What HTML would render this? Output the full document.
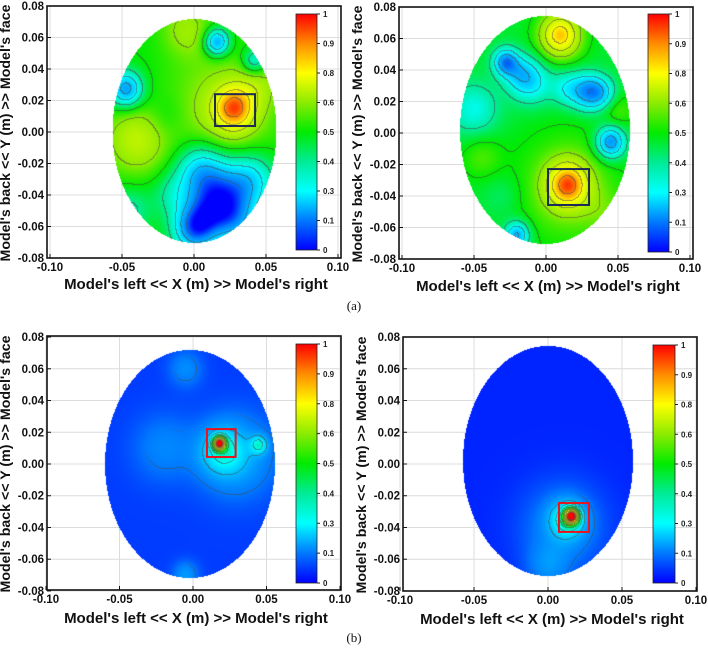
<!DOCTYPE html>
<html><head><meta charset="utf-8"><style>
html,body{margin:0;padding:0;background:#fff;}
#wrap{position:relative;width:708px;height:650px;overflow:hidden;font-family:"Liberation Sans",Arial,sans-serif;}
svg,canvas{position:absolute;left:0;top:0;}
</style></head><body>
<div id="wrap">
<svg id="bg" width="708" height="650"></svg>
<canvas id="cv" width="708" height="650"></canvas>
<svg id="fg" width="708" height="650"></svg>
</div>
<script>
// ---- data ----
const xTickLabels = ["-0.10","-0.05","0.00","0.05","0.10"];
const xTickValues = [-0.10,-0.05,0,0.05,0.10];
const yTickLabels = ["0.08","0.06","0.04","0.02","0.00","-0.02","-0.04","-0.06","-0.08"];
const yTickValues = [0.08,0.06,0.04,0.02,0,-0.02,-0.04,-0.06,-0.08];
const cbarLabels = ["1","0.9","0.8","0.6","0.5","0.4","0.3","0.1","0"];
const cbarValues = [1,0.9,0.8,0.6,0.5,0.4,0.3,0.1,0];
const cmapColors = [[255,0,0],[255,140,0],[255,255,0],[140,235,0],[0,235,0],[0,235,150],[0,255,255],[0,120,255],[0,0,255]];
const panelBase = [0.5,0.47,0.05,0.03];
// blobs: x, y, amplitude, sigma (m)
const blobsA_x = [0.028,0.02,0.016,-0.047,-0.04,0.005,0.022,0.0,0.04,0.042,-0.005,-0.045,0.045,-0.02,0.01,0.03,-0.015];
const blobsA_y = [0.015,0.015,0.057,0.027,-0.005,-0.025,-0.042,-0.062,-0.03,0.045,0.065,-0.05,0.03,0.01,-0.052,-0.058,-0.04];
const blobsA_a = [0.33,0.13,-0.35,-0.35,0.18,-0.27,-0.33,-0.33,-0.2,-0.2,0.12,-0.12,0.08,-0.05,-0.22,-0.15,-0.1];
const blobsA_s = [0.01,0.025,0.006,0.008,0.015,0.012,0.014,0.01,0.012,0.006,0.012,0.01,0.01,0.01,0.012,0.01,0.01];
const blobsB_x = [0.015,0.015,0.01,-0.028,-0.01,0.03,0.045,-0.05,-0.02,0.05,-0.045,0.04,-0.03,-0.018,0.015,0.04];
const blobsB_y = [-0.033,-0.035,0.062,0.045,0.032,0.026,-0.006,0.015,-0.065,0.015,-0.015,-0.05,-0.04,0.038,0.028,0.025];
const blobsB_a = [0.37,0.12,0.38,-0.32,-0.18,-0.3,-0.35,-0.15,-0.3,0.08,0.08,0.05,-0.05,-0.15,-0.15,-0.15];
const blobsB_s = [0.01,0.025,0.01,0.006,0.01,0.008,0.007,0.012,0.006,0.008,0.01,0.01,0.01,0.008,0.008,0.007];
const blobsC_x = [0.018,0.02,0.045,0.03,-0.02,-0.005,-0.005];
const blobsC_y = [0.013,0.008,0.012,0.005,0.01,0.06,-0.07];
const blobsC_a = [0.85,0.2,0.22,0.12,0.07,0.08,0.1];
const blobsC_s = [0.003,0.01,0.004,0.018,0.015,0.008,0.006];
const blobsD_x = [0.016,0.013,0.01,0.0];
const blobsD_y = [-0.033,-0.035,-0.04,-0.065];
const blobsD_a = [0.85,0.25,0.1,0.08];
const blobsD_s = [0.0035,0.008,0.02,0.01];
const boxX1 = [0.0146,0.0014,0.0095,0.0074];
const boxX2 = [0.0424,0.0299,0.029,0.0277];
const boxY1 = [0.024,-0.0229,0.022,-0.0246];
const boxY2 = [0.0038,-0.0457,0.0044,-0.0428];
const boxColor = ["#1c2a55","#1c2a55","#e8141e","#e8141e"];

// ---- geometry ----
const panels = [
 {name:"a-left", fx0:47,fx1:341,fy0:6,fy1:258,ox:194,oy:132,sx:1440,sy:1575,ecx:194.5,ecy:131,erx:82,ery:112,cb:[296,14,21,236],bx:[blobsA_x,blobsA_y,blobsA_a,blobsA_s],tx:289},
 {name:"a-right",fx0:399,fx1:693,fy0:7,fy1:259,ox:546,oy:133,sx:1440,sy:1575,ecx:545,ecy:130,erx:85,ery:114,cb:[648,14,21,238],bx:[blobsB_x,blobsB_y,blobsB_a,blobsB_s],tx:291},
 {name:"b-left", fx0:47,fx1:341,fy0:336,fy1:590,ox:193,oy:464,sx:1470,sy:1587,ecx:190,ecy:464,erx:85,ery:114,cb:[296,344,21,239],bx:[blobsC_x,blobsC_y,blobsC_a,blobsC_s],tx:623},
 {name:"b-right",fx0:403,fx1:697,fy0:337,fy1:591,ox:548,oy:464,sx:1480,sy:1587,ecx:548,ecy:461,erx:85,ery:115,cb:[653,345,22,238],bx:[blobsD_x,blobsD_y,blobsD_a,blobsD_s],tx:624}
];
const NS="http://www.w3.org/2000/svg";
const bg=document.getElementById('bg'), fg=document.getElementById('fg');
function mk(parent,tag,attrs,text){const e=document.createElementNS(NS,tag);for(const k in attrs)e.setAttribute(k,attrs[k]);if(text!==undefined)e.textContent=text;parent.appendChild(e);return e;}

function cmap(v){
  v=Math.max(0,Math.min(1,v));
  const vals=cbarValues.slice().reverse(), cols=cmapColors.slice().reverse();
  for(let i=0;i<vals.length-1;i++){
    if(v<=vals[i+1]){const t=(v-vals[i])/(vals[i+1]-vals[i]);const a=cols[i],b=cols[i+1];
      return [a[0]+(b[0]-a[0])*t,a[1]+(b[1]-a[1])*t,a[2]+(b[2]-a[2])*t];}
  }
  return cols[cols.length-1];
}
function level(v){ return Math.floor(v*10+1e-6); }

const cv=document.getElementById('cv'),ctx=cv.getContext('2d');
const img=ctx.createImageData(708,650);
panels.forEach((p,pi)=>{
  const g=mk(bg,'g',{});
  
  
  const X=x=>p.ox+x*p.sx, Y=y=>p.oy-y*p.sy;
  xTickValues.forEach(v=>{const l=mk(g,'line',{x1:X(v),x2:X(v),y1:p.fy0,y2:p.fy1,stroke:'#dcdcdc','stroke-width':1});});
  yTickValues.forEach(v=>{const l=mk(g,'line',{x1:p.fx0,x2:p.fx1,y1:Y(v),y2:Y(v),stroke:'#dcdcdc','stroke-width':1});});
  const fr=mk(g,'rect',{x:p.fx0,y:p.fy0,width:p.fx1-p.fx0,height:p.fy1-p.fy0,fill:'none',stroke:'#111','stroke-width':1.6});
  
  xTickValues.forEach((v,i)=>{
    mk(g,'line',{x1:X(v),x2:X(v),y1:p.fy1,y2:p.fy1-4,stroke:'#111'});
    const t=mk(g,'text',{x:X(v),y:p.fy1+13,'font-size':11.5,'font-weight':'bold','text-anchor':'middle',fill:'#111'},xTickLabels[i]);
    
  });
  yTickValues.forEach((v,i)=>{
    mk(g,'line',{x1:p.fx0,x2:p.fx0+4,y1:Y(v),y2:Y(v),stroke:'#111'});
    const t=mk(g,'text',{x:p.fx0-3,y:Y(v)+4,'font-size':11.5,'font-weight':'bold','text-anchor':'end',fill:'#111'},yTickLabels[i]);
    
  });
  const xt=mk(g,'text',{x:(p.fx0+p.fx1)/2+2,y:p.tx,'font-size':15,'font-weight':'bold','text-anchor':'middle',fill:'#111'},"Model's left << X (m) >> Model's right");
  
  const ycx=p.fx0-37, ycy=(p.fy0+p.fy1)/2+1;
  const yt=mk(g,'text',{x:ycx,y:ycy,'font-size':14.2,'font-weight':'bold','text-anchor':'middle',fill:'#111',transform:`rotate(-90 ${ycx} ${ycy})`},"Model's back << Y (m) >> Model's face");
  
  const [cx,cy,cw,ch]=p.cb;
  const gid='grad'+pi;
  const defs=mk(g,'defs',{});const lg=mk(defs,'linearGradient',{id:gid,x1:0,y1:0,x2:0,y2:1});
  cmapColors.forEach((c,i)=>mk(lg,'stop',{offset:(i/(cmapColors.length-1)),'stop-color':`rgb(${c[0]},${c[1]},${c[2]})`}));
  const cr=mk(g,'rect',{x:cx,y:cy,width:cw,height:ch,fill:`url(#${gid})`,stroke:'#222','stroke-width':0.8});
  
  cbarLabels.forEach((l,i)=>{const yy=cy+ch*i/(cbarLabels.length-1);
    mk(g,'line',{x1:cx+cw,x2:cx+cw+3,y1:yy,y2:yy,stroke:'#222'});
    const t=mk(g,'text',{x:cx+cw+6,y:yy+3,'font-size':8,'font-weight':'bold',fill:'#222'},l);
    });
  const [bxs,bys,bas,bss]=p.bx;
  const W=Math.ceil(p.erx*2)+2,H=Math.ceil(p.ery*2)+2;
  const x0=Math.floor(p.ecx-p.erx)-1,y0=Math.floor(p.ecy-p.ery)-1;
  const val=new Float32Array(W*H);
  for(let j=0;j<H;j++)for(let i=0;i<W;i++){
    const dx=(x0+i+0.5-p.ox)/p.sx, dy=(p.oy-(y0+j+0.5))/p.sy;
    let v=panelBase[pi];
    for(let k=0;k<bxs.length;k++){const ddx=dx-bxs[k],ddy=dy-bys[k];v+=bas[k]*Math.exp(-(ddx*ddx+ddy*ddy)/(2*bss[k]*bss[k]));}
    val[j*W+i]=Math.max(0,Math.min(1,v));
  }
  for(let j=0;j<H;j++)for(let i=0;i<W;i++){
    const px=x0+i,py=y0+j;
    const ex=(px+0.5-p.ecx)/p.erx,ey=(py+0.5-p.ecy)/p.ery;
    if(ex*ex+ey*ey>1)continue;
    const v=val[j*W+i];let c=cmap(v);
    const L=level(v);
    const r=i+1<W?level(val[j*W+i+1]):L, d=j+1<H?level(val[(j+1)*W+i]):L;
    if((r!==L||d!==L)&&L>=1){c=[c[0]*0.45+40,c[1]*0.45+40,c[2]*0.45+40];}
    const o=(py*708+px)*4;img.data[o]=c[0];img.data[o+1]=c[1];img.data[o+2]=c[2];img.data[o+3]=255;
  }
  const b=mk(fg,'rect',{x:X(boxX1[pi]),y:Y(boxY1[pi]),width:X(boxX2[pi])-X(boxX1[pi]),height:Y(boxY2[pi])-Y(boxY1[pi]),fill:'none',stroke:boxColor[pi],'stroke-width':2});
  
});
ctx.putImageData(img,0,0);
const la=mk(fg,'text',{x:354,y:310,'font-size':13,'font-family':'Liberation Serif','text-anchor':'middle',fill:'#111'},'(a)');

const lb=mk(fg,'text',{x:354,y:642,'font-size':13,'font-family':'Liberation Serif','text-anchor':'middle',fill:'#111'},'(b)');

</script>
</body></html>
